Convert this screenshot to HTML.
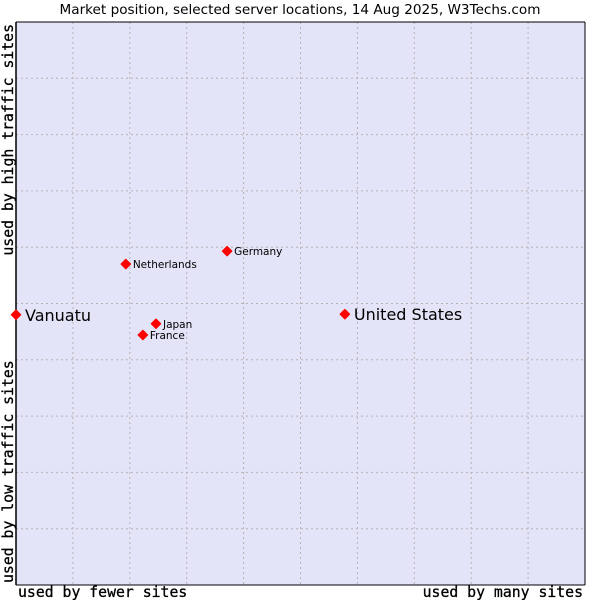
<!DOCTYPE html>
<html><head><meta charset="utf-8"><style>
body{margin:0;background:#fff;width:600px;height:600px;overflow:hidden}
svg text{font-family:"DejaVu Sans","Liberation Sans",sans-serif}
.ax{font-family:"DejaVu Sans Mono","Liberation Mono",monospace;font-size:14.8px;fill:#000;stroke:#000;stroke-width:0.3}
</style></head><body>
<svg id="chart" width="600" height="600">
<text x="300" y="14" text-anchor="middle" font-size="13.6">Market position, selected server locations, 14 Aug 2025, W3Techs.com</text>
<rect x="16" y="22" width="569" height="563" fill="#e3e4f8"/>
<g id="grid"></g>
<line x1="16" y1="22" x2="16" y2="585" stroke="#000" stroke-width="1.5"/>
<line x1="16" y1="22" x2="585" y2="22" stroke="#000"/>
<line x1="585" y1="22" x2="585" y2="585" stroke="#000"/>
<line x1="16" y1="585" x2="585" y2="585" stroke="#000"/>
<g id="points"></g>
<text class="ax" x="18" y="597">used by fewer sites</text>
<text class="ax" x="583" y="597" text-anchor="end">used by many sites</text>
<text class="ax" transform="translate(13,24) rotate(-90)" text-anchor="end">used by high traffic sites</text>
<text class="ax" transform="translate(13,583) rotate(-90)" text-anchor="start">used by low traffic sites</text>
</svg>
<script>
const names=["Vanuatu","United States","Germany","Netherlands","Japan","France"];
const xVals=[0,57.8,37.1,19.3,24.6,22.3];
const yVals=[48.0,48.1,59.3,57.0,46.4,44.4];
const big=[true,true,false,false,false,false];
const X0=16,X1=585,Y0=585,Y1=22;
const sx=v=>X0+v/100*(X1-X0), sy=v=>Y0-v/100*(Y0-Y1);
const NS="http://www.w3.org/2000/svg";
const grid=document.getElementById('grid');
for(let i=1;i<10;i++){
  const v=document.createElementNS(NS,'line');
  v.setAttribute('x1',sx(i*10));v.setAttribute('x2',sx(i*10));v.setAttribute('y1',Y1);v.setAttribute('y2',Y0);
  v.setAttribute('stroke','#b4b4b4');v.setAttribute('stroke-dasharray','2,3');
  
  
  grid.appendChild(v);
  const h=document.createElementNS(NS,'line');
  h.setAttribute('y1',sy(i*10));h.setAttribute('y2',sy(i*10));h.setAttribute('x1',X0);h.setAttribute('x2',X1);
  h.setAttribute('stroke','#b4b4b4');h.setAttribute('stroke-dasharray','2,3');
  
  
  grid.appendChild(h);
}
const pts=document.getElementById('points');
names.forEach((n,i)=>{
  const x=sx(xVals[i]),y=sy(yVals[i]);
  const p=document.createElementNS(NS,'polygon');
  p.setAttribute('points',`${x-4.5},${y} ${x},${y-4.5} ${x+4.5},${y} ${x},${y+4.5}`);
  p.setAttribute('fill','#ff0000');p.setAttribute('stroke','#ff0000');p.setAttribute('stroke-width','1.5');p.setAttribute('stroke-linejoin','round');
  
  
  pts.appendChild(p);
  const t=document.createElementNS(NS,'text');
  t.setAttribute('x',x+(big[i]?9:7));t.setAttribute('y',y+(big[i]?6:4));
  t.setAttribute('font-size',big[i]?'16':'10.5');
  t.textContent=n;
  
  
  pts.appendChild(t);
});
</script>
</body></html>
